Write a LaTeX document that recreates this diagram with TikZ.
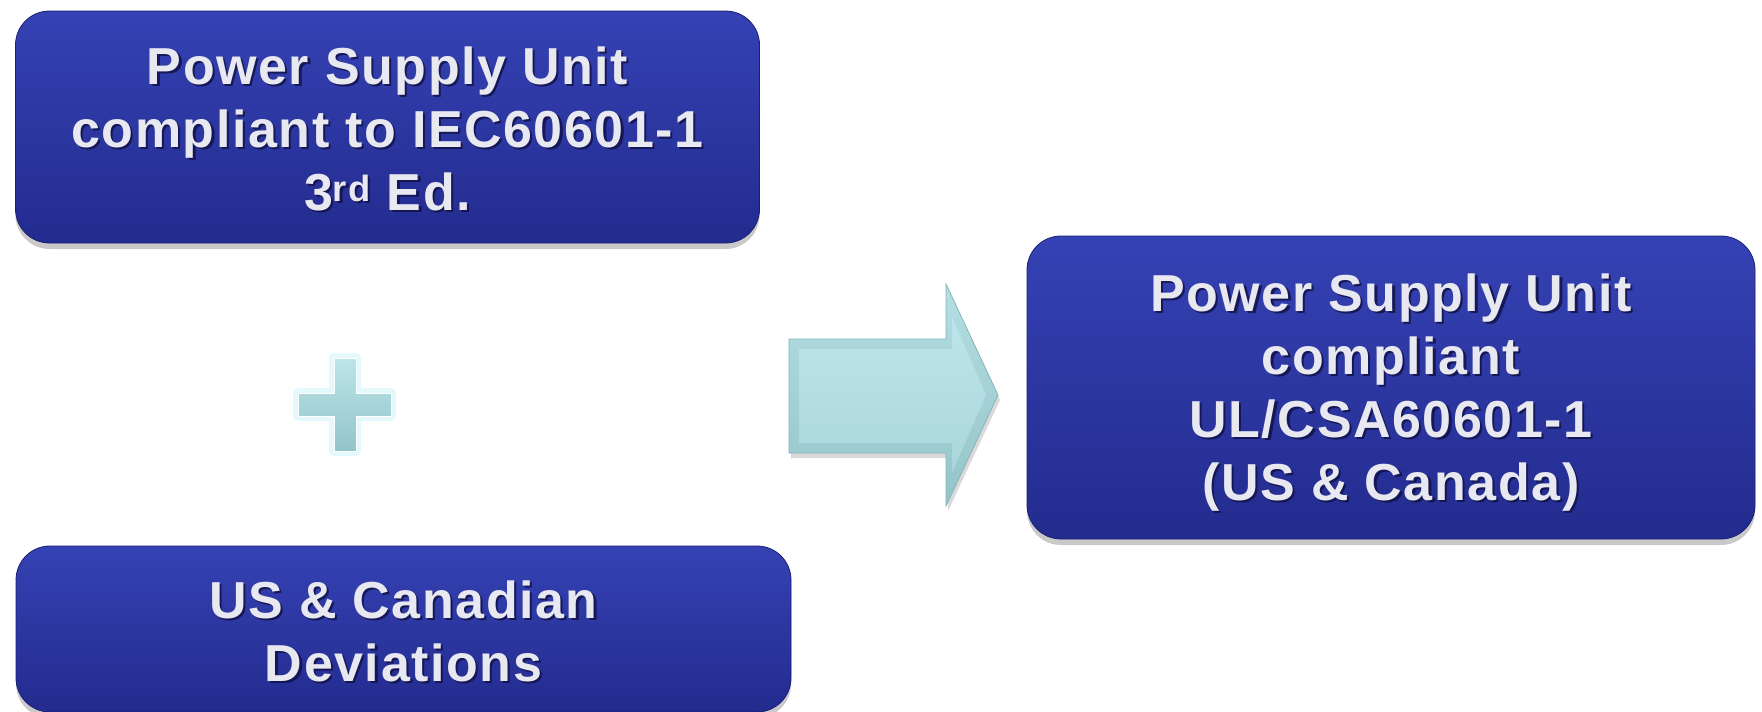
\documentclass[tikz,border=0pt]{standalone}
\usepackage{fontspec}
\setmainfont{Liberation Sans}
\newfontfamily\boxfont[LetterSpace=3]{Liberation Sans}
\usetikzlibrary{shadows}
\definecolor{boxtop}{HTML}{3542B4}
\definecolor{boxbot}{HTML}{232B8E}
\definecolor{boxedge}{HTML}{1A2070}
\definecolor{txtcol}{HTML}{E8E8F0}
\definecolor{txtshd}{HTML}{12124A}
\definecolor{tealtop}{HTML}{BDE5E9}
\definecolor{tealbot}{HTML}{93C4C9}
\definecolor{tealedge}{HTML}{86B4BA}
\definecolor{glow}{HTML}{D8F6FA}
\tikzset{
  psbox/.style={rectangle, rounded corners=34pt, top color=boxtop, bottom color=boxbot,
    draw=boxedge, line width=0.8pt, inner sep=0pt,
    drop shadow={shadow xshift=0pt, shadow yshift=-6pt, opacity=0.3, fill=black!70}},
  pstext/.style={text=txtcol, align=center, inner sep=0pt,
    font=\boxfont\bfseries\fontsize{52}{63}\selectfont},
  psshadow/.style={pstext, text=txtshd, text opacity=0.85},
}
\begin{document}
\begin{tikzpicture}[x=1pt,y=-1pt]
\useasboundingbox (0,0) rectangle (1762,712);
% boxes
\node[psbox, minimum width=744pt, minimum height=232pt] (b1) at (387.5,127) {};
\node[psbox, minimum width=775pt, minimum height=166pt] (b2) at (403.5,629) {};
\node[psbox, minimum width=728pt, minimum height=303pt] (b3) at (1391,387.5) {};
% texts
\node[psshadow] at ([shift={(2.2pt,-4.2pt)}]b1.center) {Power Supply Unit\\compliant to IEC60601-1\\3\textsuperscript{rd} Ed.};
\node[pstext] (t1) at ([shift={(0pt,-2pt)}]b1.center) {Power Supply Unit\\compliant to IEC60601-1\\3\textsuperscript{rd} Ed.};
\node[psshadow] at ([shift={(2.2pt,-4.2pt)}]b2.center) {US \& Canadian\\Deviations};
\node[pstext] (t2) at ([shift={(0pt,-2pt)}]b2.center) {US \& Canadian\\Deviations};
\node[psshadow] at ([shift={(2.2pt,-7.2pt)}]b3.center) {Power Supply Unit\\compliant\\UL/CSA60601-1\\(US \& Canada)};
\node[pstext] (t3) at ([shift={(0pt,-5pt)}]b3.center) {Power Supply Unit\\compliant\\UL/CSA60601-1\\(US \& Canada)};
% plus sign
\coordinate (pc) at (345,404.5);
\path[draw=glow, line width=10pt, line join=round, opacity=0.7]
  (334,358) -- (356,358) -- (356,393) -- (391,393) -- (391,416) -- (356,416) -- (356,451)
  -- (334,451) -- (334,416) -- (298,416) -- (298,393) -- (334,393) -- cycle;
\path[top color=tealtop, bottom color=tealbot, draw=white, line width=1pt]
  (334,358) -- (356,358) -- (356,393) -- (391,393) -- (391,416) -- (356,416) -- (356,451)
  -- (334,451) -- (334,416) -- (298,416) -- (298,393) -- (334,393) -- cycle;
% arrow
\path[fill=black, opacity=0.15]
  (791,344) -- (948,344) -- (948,289) -- (1000,400) -- (948,511) -- (948,458) -- (791,458) -- cycle;
\path[top color=tealtop!80!tealbot, bottom color=tealbot, draw=tealedge, line width=0.8pt]
  (789,339) -- (946,339) -- (946,284) -- (998,395) -- (946,506) -- (946,453) -- (789,453) -- cycle;
\path[top color=tealtop, bottom color=tealtop!55!tealbot]
  (799,349) -- (952,349) -- (952,317) -- (986,395) -- (952,473) -- (952,443) -- (799,443) -- cycle;
\end{tikzpicture}
\end{document}
